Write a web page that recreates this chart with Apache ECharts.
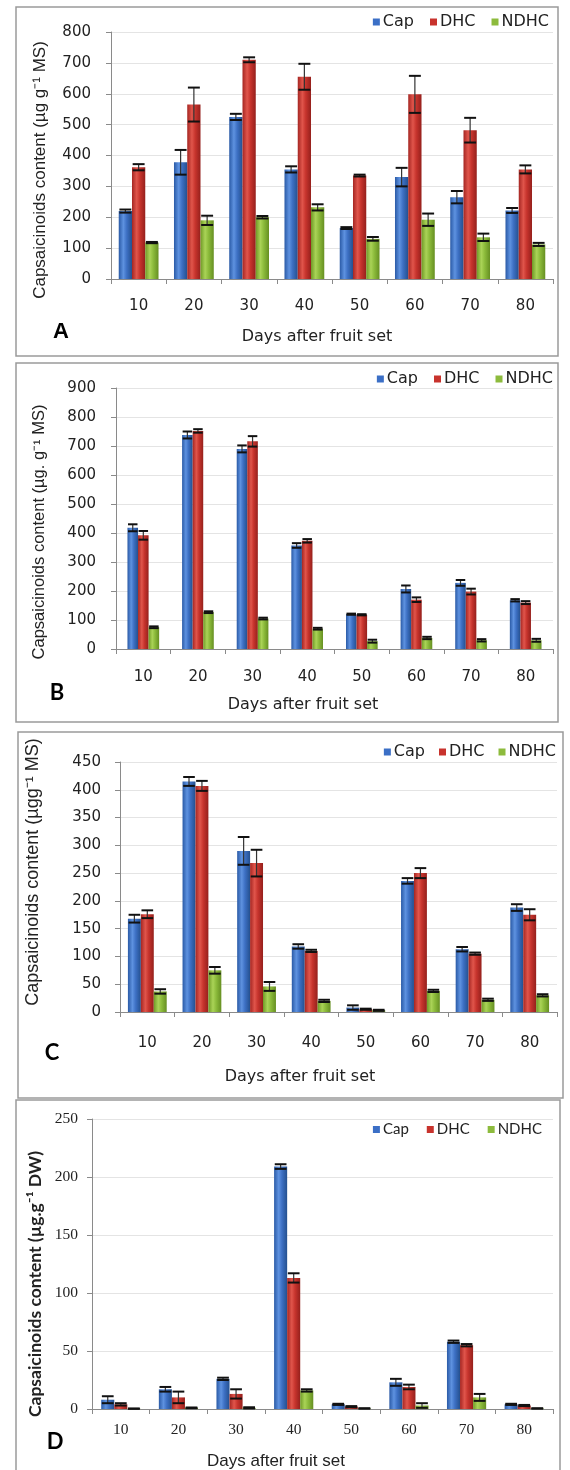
<!DOCTYPE html>
<html><head><meta charset="utf-8">
<script src="https://cdn.jsdelivr.net/npm/echarts@6/dist/echarts.min.js"></script>
<style>html,body{margin:0;padding:0;background:#fff}#c{width:570px;height:1470px}</style>
</head><body><div id="c"></div>
<script>
// ---------- DATA ----------
const categories = ['10','20','30','40','50','60','70','80'];
const seriesNames = ['Cap','DHC','NDHC'];

// Panel A (µg g-1 MS)
const capA      = [220, 378, 525, 355, 165, 330, 265, 222];
const capAErr   = [5, 40, 10, 10, 3, 30, 20, 8];
const dhcA      = [362, 565, 710, 655, 335, 598, 482, 355];
const dhcAErr   = [10, 55, 8, 42, 3, 60, 40, 13];
const ndhcA     = [118, 190, 200, 232, 130, 192, 135, 112];
const ndhcAErr  = [2, 15, 4, 10, 6, 20, 12, 5];
const yTicksA   = [0, 800, 100];

// Panel B (µg. g-1 MS)
const capB      = [418, 738, 690, 357, 120, 207, 228, 168];
const capBErr   = [12, 12, 12, 8, 2, 12, 10, 4];
const dhcB      = [392, 752, 716, 373, 118, 170, 198, 160];
const dhcBErr   = [15, 6, 18, 6, 2, 8, 10, 5];
const ndhcB     = [75, 127, 105, 70, 27, 38, 30, 30];
const ndhcBErr  = [3, 3, 3, 3, 5, 4, 4, 5];
const yTicksB   = [0, 900, 100];

// Panel C (µgg-1 MS)
const capC      = [168, 415, 290, 118, 8, 236, 113, 188];
const capCErr   = [7, 8, 25, 4, 4, 5, 4, 6];
const dhcC      = [176, 407, 268, 110, 5, 250, 105, 175];
const dhcCErr   = [7, 9, 24, 2, 1, 9, 2, 10];
const ndhcC     = [37, 75, 46, 20, 3, 38, 22, 30];
const ndhcCErr  = [4, 6, 8, 2, 1, 2, 2, 2];
const yTicksC   = [0, 450, 50];

// Panel D (µg.g-1 DW)
const capD      = [8, 17, 26, 209, 4, 23, 58, 4];
const capDErr   = [3, 2, 1, 2, 0.5, 3, 1, 0.5];
const dhcD      = [4, 10, 13, 113, 2, 19, 55, 3];
const dhcDErr   = [1, 5, 4, 4, 0.5, 2, 1, 0.5];
const ndhcD     = [0.3, 1, 1, 16, 0.5, 3, 10, 0.5];
const ndhcDErr  = [0, 0.3, 0.5, 1, 0, 2, 3, 0];
const yTicksD   = [0, 250, 50];

const yTitles = [
  'Capsaicinoids content (µg g\u207B\u00B9 MS)',
  'Capsaicinoids content (µg. g\u207B\u00B9 MS)',
  'Capsaicinoids content (µgg\u207B\u00B9 MS)',
  'Capsaicinoids content (µg.g\u207B\u00B9 DW)'
];
const xTitle = 'Days after fruit set';
const panelLetters = ['A','B','C','D'];

// ---------- LAYOUT / STYLE ----------
const panels = [
  {vals:[capA,dhcA,ndhcA], errs:[capAErr,dhcAErr,ndhcAErr], ticks:yTicksA,
   grid:{left:111, width:442, top:32, height:247}, gap:0.28,
   box:[16,7,542,349], font:'DejaVu Sans', tickFont:'DejaVu Sans', tickSize:15,
   xMargin:20, yMargin:20, legend:{right:16, top:9, size:16, gap:16},
   yTitle:{x:40, y:170, font:'Liberation Sans', size:17, weight:'normal'},
   xT:{x:317, y:337, font:'DejaVu Sans', size:16},
   letter:{x:61, y:332, font:'Liberation Sans'}},
  {vals:[capB,dhcB,ndhcB], errs:[capBErr,dhcBErr,ndhcBErr], ticks:yTicksB,
   grid:{left:116, width:437, top:388, height:261}, gap:0.42,
   box:[16,363,542,359], font:'DejaVu Sans', tickFont:'DejaVu Sans', tickSize:15,
   xMargin:21, yMargin:20, legend:{right:12, top:366, size:16, gap:16},
   yTitle:{x:39, y:532, font:'Liberation Sans', size:16.5, weight:'normal'},
   xT:{x:303, y:705, font:'DejaVu Sans', size:16},
   letter:{x:57, y:693, font:'Lato, sans-serif'}},
  {vals:[capC,dhcC,ndhcC], errs:[capCErr,dhcCErr,ndhcCErr], ticks:yTicksC,
   grid:{left:120, width:437, top:762, height:250}, gap:0.29,
   box:[18,732,545,366], font:'DejaVu Sans', tickFont:'DejaVu Sans', tickSize:15,
   xMargin:24, yMargin:19, legend:{right:9, top:739, size:16, gap:14},
   yTitle:{x:33, y:872, font:'Liberation Sans', size:18, weight:'normal'},
   xT:{x:300, y:1077, font:'DejaVu Sans', size:16},
   letter:{x:52, y:1053, font:'Lato, sans-serif'}},
  {vals:[capD,dhcD,ndhcD], errs:[capDErr,dhcDErr,ndhcDErr], ticks:yTicksD,
   grid:{left:92, width:461, top:1119, height:290}, gap:0.32,
   box:[16,1100,544,380], font:'Lato, sans-serif', tickFont:'Liberation Serif', tickSize:15.5,
   xMargin:13, yMargin:14, legend:{right:23, top:1117, size:15, gap:18},
   yTitle:{x:35, y:1284, font:'Lato, sans-serif', size:17.5, weight:'bold'},
   xT:{x:276, y:1461, font:'Liberation Sans Narrow, Liberation Sans, sans-serif', size:17},
   letter:{x:55, y:1442, font:'Lato, sans-serif'}}
];

const barColors = [
  ['#2a5aa6','#5e92e0','#3d70c4','#24508f'],
  ['#a52622','#e0554b','#c7342d','#95201c'],
  ['#6f9a26','#aad357','#8cbb3b','#668f22']
];
const plainColors = ['#3b6fc6','#c8332d','#8dbb3d'];

function grad(c){
  return {type:'linear', x:0, y:0, x2:1, y2:0, colorStops:[
    {offset:0, color:c[0]}, {offset:0.35, color:c[1]}, {offset:0.6, color:c[2]}, {offset:1, color:c[3]}]};
}

function errRender(si, gap){
  return function(params, api){
    const ci = api.value(0), v = api.value(1), e = api.value(2);
    const c = api.coord([ci, v]);
    const W = api.size([1, 0])[0];
    const bw = W * (1 - gap) / 3;
    const x = c[0] + (si - 1) * bw;
    const top = api.coord([ci, v + e])[1];
    const bot = api.coord([ci, Math.max(0, v - e)])[1];
    const hw = bw * 0.45;
    return {type:'group', children:[
      {type:'line', shape:{x1:x, y1:top, x2:x, y2:bot}, style:{stroke:'#333', lineWidth:1.2}},
      {type:'line', shape:{x1:x-hw, y1:top, x2:x+hw, y2:top}, style:{stroke:'#111', lineWidth:2}},
      {type:'line', shape:{x1:x-hw, y1:bot, x2:x+hw, y2:bot}, style:{stroke:'#111', lineWidth:2}}
    ]};
  };
}

const grids = [], xAxes = [], yAxes = [], series = [], legends = [], graphics = [];
panels.forEach((p, pi) => {
  grids.push(Object.assign({containLabel:false}, p.grid));
  xAxes.push({type:'category', gridIndex:pi, data:categories,
    axisLine:{lineStyle:{color:'#8a8a8a', width:1}},
    axisTick:{show:true, interval:0, length:5, lineStyle:{color:'#8a8a8a'}},
    axisLabel:{interval:0, margin:p.xMargin, color:'#222', fontFamily:p.tickFont, fontSize:p.tickSize}});
  yAxes.push({type:'value', gridIndex:pi, min:p.ticks[0], max:p.ticks[1], interval:p.ticks[2],
    axisLine:{show:true, lineStyle:{color:'#8a8a8a', width:1}},
    axisTick:{show:true, length:5, lineStyle:{color:'#8a8a8a'}},
    splitLine:{show:true, lineStyle:{color:'#e4e4e4', width:1}},
    axisLabel:{margin:p.yMargin, color:'#222', fontFamily:p.tickFont, fontSize:p.tickSize}});
  seriesNames.forEach((nm, si) => {
    series.push({type:'bar', name:nm, xAxisIndex:pi, yAxisIndex:pi, data:p.vals[si],
      barGap:'0%', barCategoryGap:(p.gap*100)+'%',
      itemStyle:{color:grad(barColors[si])}, emphasis:{disabled:true}, z:2});
  });
  seriesNames.forEach((nm, si) => {
    series.push({type:'custom', name:nm+' error', xAxisIndex:pi, yAxisIndex:pi,
      data:p.vals[si].map((v, i) => [i, v, p.errs[si][i]]),
      encode:{x:0, y:1}, renderItem:errRender(si, p.gap), z:5, silent:true});
  });
  legends.push({right:p.legend.right, top:p.legend.top, orient:'horizontal',
    itemWidth:7, itemHeight:7, itemGap:p.legend.gap, icon:'rect',
    textStyle:{fontFamily:p.font, fontSize:p.legend.size, color:'#222', padding:[0,0,0,-2]},
    data:seriesNames.map((n, si) => ({name:n, itemStyle:{color:plainColors[si]}}))});
  graphics.push({type:'rect', shape:{x:p.box[0], y:p.box[1], width:p.box[2], height:p.box[3]},
    style:{fill:'none', stroke:'#9a9a9a', lineWidth:1.5}, z:-10, silent:true});
  graphics.push({type:'text', x:p.yTitle.x, y:p.yTitle.y, rotation:Math.PI/2,
    style:{text:yTitles[pi], fontFamily:p.yTitle.font, fontSize:p.yTitle.size, fontWeight:p.yTitle.weight,
      fill:'#222', align:'center', verticalAlign:'middle'}});
  graphics.push({type:'text', x:p.xT.x, y:p.xT.y,
    style:{text:xTitle, fontFamily:p.xT.font, fontSize:p.xT.size, fontWeight:'normal', fill:'#222',
      align:'center', verticalAlign:'middle'}});
  graphics.push({type:'text', x:p.letter.x, y:p.letter.y,
    style:{text:panelLetters[pi], fontFamily:p.letter.font, fontSize:22, fontWeight:'bold', fill:'#000',
      align:'center', verticalAlign:'middle'}});
});

const chart = echarts.init(document.getElementById('c'), null, {renderer:'canvas'});
chart.setOption({
  animation:false,
  backgroundColor:'#fff',
  grid:grids, xAxis:xAxes, yAxis:yAxes, series:series, legend:legends,
  graphic:{elements:graphics}
});
</script></body></html>
